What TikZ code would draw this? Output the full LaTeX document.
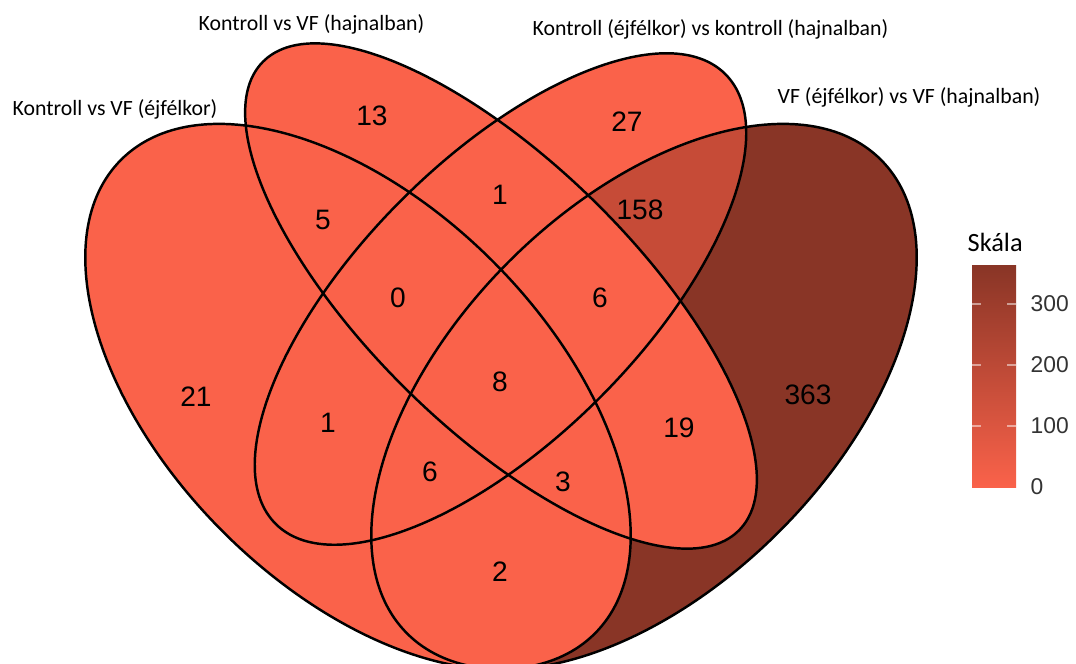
\documentclass[tikz,border=0pt]{standalone}
\usepackage{fontspec}
\setmainfont{Liberation Sans}
\newfontfamily\calfont{Carlito}

\definecolor{vlow}{RGB}{250,98,74}
\definecolor{vmid}{RGB}{198,75,55}
\definecolor{vhigh}{RGB}{137,53,38}

% the four sets
\newcommand{\setA}{(3.58,-3.966) ellipse [x radius=3.35, y radius=1.91, rotate=-45]}
\newcommand{\setB}{(5.01,-2.96) ellipse [x radius=3.34, y radius=1.33, rotate=-44.5]}
\newcommand{\setC}{(5.005,-2.99) ellipse [x radius=3.18, y radius=1.40, rotate=45]}
\newcommand{\setD}{(6.44,-3.966) ellipse [x radius=3.35, y radius=1.91, rotate=45]}

\begin{document}
\begin{tikzpicture}[
    num/.style={font=\fontsize{8}{9}\selectfont},
    ttl/.style={font=\calfont\fontsize{6.2}{7}\selectfont, anchor=base west, inner sep=0pt},
    rim/.style={draw=black, line width=0.7pt},
    tck/.style={font=\fontsize{6.5}{7}\selectfont, text=black!80, anchor=west, inner sep=0pt}]
    \useasboundingbox (0,0) rectangle (10.76,-6.63);

    % region colours
    \fill[vhigh] \setD;
    \fill[vlow] \setC;
    \begin{scope}
        \clip \setC;
        \fill[vmid] \setD;
    \end{scope}
    \fill[vlow] \setA;
    \fill[vlow] \setB;

    % outlines
    \draw[rim] \setA;
    \draw[rim] \setB;
    \draw[rim] \setC;
    \draw[rim] \setD;

    % counts
    \node[num] (nA) at (1.96,-3.97) {21};
    \node[num] (nB) at (3.72,-1.16) {13};
    \node[num] (nC) at (6.27,-1.22) {27};
    \node[num] (nD) at (8.08,-3.95) {363};
    \node[num] (nAB) at (3.23,-2.20) {5};
    \node[num] (nBC) at (5.00,-1.95) {1};
    \node[num] (nCD) at (6.40,-2.10) {158};
    \node[num] (nAC) at (3.28,-4.23) {1};
    \node[num] (nBD) at (6.79,-4.28) {19};
    \node[num] (nAD) at (5.00,-5.72) {2};
    \node[num] (nABC) at (3.98,-2.98) {0};
    \node[num] (nBCD) at (6.00,-2.98) {6};
    \node[num] (nACD) at (4.30,-4.72) {6};
    \node[num] (nABD) at (5.63,-4.82) {3};
    \node[num] (nABCD) at (5.00,-3.82) {8};

    % set names
    \node[ttl] (tA) at (0.12,-1.15) {Kontroll vs VF (éjfélkor)};
    \node[ttl] (tB) at (1.98,-0.30) {Kontroll vs VF (hajnalban)};
    \node[ttl] (tC) at (5.32,-0.35) {Kontroll (éjfélkor) vs kontroll (hajnalban)};
    \node[ttl] (tD) at (7.77,-1.03) {VF (éjfélkor) vs VF (hajnalban)};

    % legend
    \node[font=\calfont\fontsize{7.5}{8}\selectfont, anchor=base west, inner sep=0pt] (skala) at (9.67,-2.51) {Skála};
    \shade[bottom color=vlow, top color=vhigh] (9.72,-4.87) rectangle (10.16,-2.655);
    \foreach \v in {1,2,3} {
        \draw[white, opacity=0.5, line width=0.5pt] (9.72,-4.87+0.61*\v) -- ++(0.09,0);
        \draw[white, opacity=0.5, line width=0.5pt] (10.16,-4.87+0.61*\v) -- ++(-0.09,0);
    }
    \node[tck] (l0) at (10.30,-4.87) {0};
    \node[tck] (l100) at (10.30,-4.26) {100};
    \node[tck] (l200) at (10.30,-3.65) {200};
    \node[tck] (l300) at (10.30,-3.04) {300};
\end{tikzpicture}
\end{document}
